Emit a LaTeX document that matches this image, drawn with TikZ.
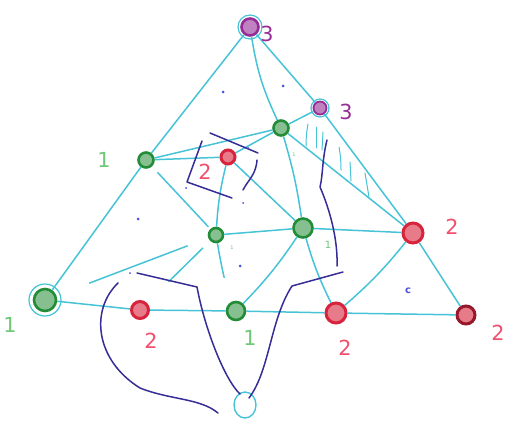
\documentclass[tikz,border=0pt]{standalone}
\usepackage{fontspec}
\setmainfont{DejaVu Sans}
\usetikzlibrary{shapes.geometric}
\definecolor{cy}{RGB}{70,195,215}
\definecolor{nv}{RGB}{55,45,150}
\definecolor{gn}{RGB}{35,140,55}
\definecolor{lgn}{RGB}{110,200,120}
\definecolor{rd}{RGB}{215,35,60}
\definecolor{pk}{RGB}{240,80,110}
\definecolor{pu}{RGB}{150,45,150}
\definecolor{bl}{RGB}{70,80,220}
\tikzset{
  edge/.style={draw=cy, line width=1.5pt},
  hatch/.style={draw=cy, line width=1pt, line cap=round},
  pen/.style={draw=nv, line width=1.5pt, line cap=round, line join=round},
  gnode/.style={circle, draw=gn, line width=2.6pt, fill=gn!55, inner sep=0pt, minimum size=15pt},
  rnode/.style={circle, draw=rd, line width=3pt, fill=rd!60, inner sep=0pt, minimum size=17pt},
  pnode/.style={circle, draw=pu, line width=2.6pt, fill=pu!60, inner sep=0pt, minimum size=17pt},
  ring/.style={circle, draw=cy, line width=1.2pt, inner sep=0pt},
  lab/.style={font=\huge, inner sep=0pt},
  dot/.style={circle, fill=bl, inner sep=0pt, minimum size=3pt}
}
\begin{document}
\begin{tikzpicture}[x=1pt,y=-1pt]
\useasboundingbox (0,0) rectangle (524,433);
% rings behind nodes
\node[ring, minimum size=24pt] (Tr) at (250,27) {};
\node[ring, minimum size=18pt] (P2r) at (320,108) {};
\node[ring, minimum size=32pt] (BLr) at (45,300) {};
% nodes
\node[pnode] (T) at (250,27) {};
\node[pnode, minimum size=13pt, line width=1.8pt] (P2) at (320,108) {};
\node[gnode] (G1) at (281,128) {};
\node[rnode, minimum size=14pt] (R1) at (228,157) {};
\node[gnode] (G2) at (146,160) {};
\node[gnode, minimum size=14pt] (G3) at (216,235) {};
\node[gnode, minimum size=19pt] (G4) at (303,228) {};
\node[rnode, minimum size=20pt] (R2) at (413,233) {};
\node[gnode, minimum size=22pt] (BL) at (45,300) {};
\node[rnode, minimum size=17pt] (R3) at (140,310) {};
\node[gnode, minimum size=18pt] (G5) at (236,311) {};
\node[rnode, minimum size=20pt] (R4) at (336,313) {};
\node[rnode, minimum size=18pt, draw=rd!70!black] (R5) at (466,315) {};
\node[ellipse, draw=cy, line width=1.4pt, minimum width=22pt, minimum height=26pt, inner sep=0pt] (B) at (245,405) {};
% edges
\draw[edge] (T) -- (G2);
\draw[edge] (G2) -- (BL);
\draw[edge] (T) -- (P2);
\draw[edge] (P2) -- (R2);
\draw[edge] (R2) -- (R5);
\draw[edge] (BL) -- (R3);
\draw[edge] (R3) -- (G5);
\draw[edge] (G5) -- (R4);
\draw[edge] (R4) -- (R5);
\draw[edge] (T) to[bend right=8] (G1);
\draw[edge] (P2) -- (G1);
\draw[edge] (G1) -- (G2);
\draw[edge] (G2) -- (R1);
\draw[edge] (R1) -- (G1);
\draw[edge] (G1) to[bend left=4] (G4);
\draw[edge] (G1) -- (R2);
\draw[edge] (R1) to[bend right=5] (G3);
\draw[edge] (R1) -- (G4);
\draw[edge, shorten <=8pt, shorten >=3pt] (G2) -- (G3);
\draw[edge] (G3) -- (G4);
\draw[edge] (G4) -- (R2);
\draw[edge, shorten <=35pt, shorten >=22pt] (BL) -- (G3);
\draw[edge, shorten <=10pt, shorten >=30pt] (G3) -- (R3);
\draw[edge, shorten >=25pt] (G3) to[bend right=5] (G5);
\draw[edge] (G4) to[bend left=5] (G5);
\draw[edge] (G4) to[bend right=5] (R4);
\draw[edge] (R2) to[bend left=5] (R4);
% hatching
\draw[hatch] (308,124) to[bend right=5] (306,146);
\draw[hatch] (316,127) -- (316,148);
\draw[hatch] (323,132) -- (322,150);
\draw[hatch] (339,147) to[bend left=5] (341,170);
\draw[hatch] (350,162) -- (351,181);
\draw[hatch] (365,173) -- (369,197);
% pen strokes (dark blue)
\draw[pen] (210,133) -- (258,153);
\draw[pen] (202,141) -- (187,182) -- (232,198);
\draw[pen] (257,160) .. controls (256,175) and (248,180) .. (243,190);
\draw[pen] (327,140) .. controls (322,160) and (323,175) .. (320,187) .. controls (330,210) and (338,240) .. (337,266);
\draw[pen] (343,272) -- (292,286) .. controls (270,320) and (270,370) .. (249,398);
\draw[pen] (137,273) -- (197,287) .. controls (205,330) and (225,380) .. (240,394);
\draw[pen] (118,283) .. controls (90,310) and (95,360) .. (140,388) .. controls (170,400) and (200,398) .. (218,413);
% blue dots and letters
\node[dot] (d1) at (223,92) {};
\node[dot] (d2) at (283,86) {};
\node[dot] (d3) at (138,219) {};
\node[dot] (d4) at (240,266) {};
\node[dot, minimum size=2pt] (d5) at (186,188) {};
\node[dot, minimum size=2pt] (d6) at (243,203) {};
\node[dot, minimum size=2pt] (d7) at (130,273) {};
\node[dot, minimum size=2pt] (d8) at (248,148) {};
\node[text=bl, font=\bfseries] (c) at (408,291) {c};
% labels
\node[lab, text=pu] (l1) at (267,34) {3};
\node[lab, text=pu] (l2) at (346,112) {3};
\node[lab, text=pk] (l3) at (205,172) {2};
\node[lab, text=pk] (l4) at (452,227) {2};
\node[lab, text=pk] (l5) at (151,341) {2};
\node[lab, text=pk] (l6) at (345,348) {2};
\node[lab, text=pk] (l7) at (498,333) {2};
\node[lab, text=lgn] (l8) at (104,160) {1};
\node[lab, text=lgn] (l9) at (10,325) {1};
\node[lab, text=lgn] (l10) at (250,338) {1};
\node[text=lgn] (l11) at (328,245) {1};
\node[text=lgn, font=\tiny] (l12) at (294,155) {1};
\node[text=lgn, font=\tiny] (l13) at (232,248) {1};
\end{tikzpicture}
\end{document}
